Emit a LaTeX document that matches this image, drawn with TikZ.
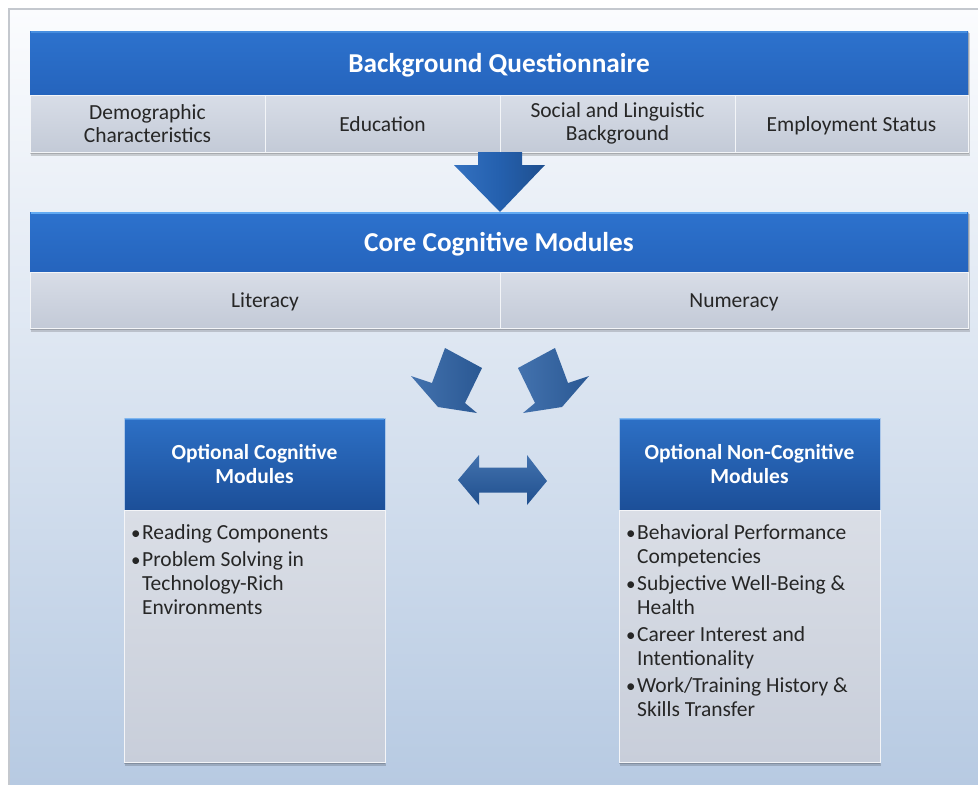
\documentclass[tikz,border=0pt]{standalone}
\usepackage{fontspec}
\setmainfont{Carlito}
\usetikzlibrary{calc}
\definecolor{bgtop}{HTML}{FBFCFE}
\definecolor{bgbot}{HTML}{B7CAE2}
\definecolor{framegray}{HTML}{C4C8CE}
\definecolor{barblue}{HTML}{2D72CD}
\definecolor{bardark}{HTML}{2564BD}
\definecolor{barlight}{HTML}{62AAF2}
\definecolor{celltop}{HTML}{D8DDE7}
\definecolor{cellbot}{HTML}{C3CAD7}
\definecolor{hdrtop}{HTML}{2D70C6}
\definecolor{hdrbot}{HTML}{1C4F98}
\definecolor{bodytop}{HTML}{DADEE6}
\definecolor{bodybot}{HTML}{C8CEDA}
\definecolor{arrowlight}{HTML}{3471C0}
\definecolor{arrowblue}{HTML}{2460AE}
\definecolor{arrowdark}{HTML}{1F4F8E}
\definecolor{carrowlight}{HTML}{4372AE}
\definecolor{carrow}{HTML}{2A5893}
\definecolor{txt}{HTML}{262626}
\newcommand{\bul}{{\fontsize{19}{19}\selectfont •}\kern1.5pt}
\newcommand{\bulgap}{\phantom{\bul}}
\tikzset{
  bluebar/.style={anchor=north west, inner sep=0pt, outer sep=0pt, top color=barblue, bottom color=bardark, draw=none, text=white, text height=19.5pt, text depth=0pt, font=\bfseries\fontsize{27.3}{30}\selectfont},
  subcell/.style={anchor=north west, inner sep=0pt, outer sep=0pt, top color=celltop, bottom color=cellbot, draw=white!70!celltop, line width=1pt, text=txt, align=center, font=\fontsize{21.5}{22.5}\selectfont},
  oneline/.style={text height=15pt, text depth=0pt},
  boxhead/.style={anchor=north west, inner sep=0pt, outer sep=0pt, top color=hdrtop, bottom color=hdrbot, draw=white!60!hdrtop, line width=0.8pt, text=white, align=center, font=\bfseries\fontsize{21.5}{23.5}\selectfont},
  boxbody/.style={anchor=north west, inner sep=0pt, outer sep=0pt, top color=bodytop, bottom color=bodybot, draw=white!70!bodytop, line width=1pt},
  listtext/.style={anchor=north west, inner sep=0pt, align=left, text=txt, font=\fontsize{21.5}{24}\selectfont},
  softshadow/.style={fill=black, opacity=0.16},
  glossline/.style={barlight, line width=2pt},
}
\begin{document}
\begin{tikzpicture}[x=1pt,y=-1pt]
\useasboundingbox (0,0) rectangle (978,785);
\fill[white] (0,0) rectangle (978,785);
\shade[top color=bgtop, bottom color=bgbot] (9,9) rectangle (978,785);
\draw[framegray, line width=1.2pt] (9,785) -- (9,9) -- (978,9);

% ---------- shadows ----------
\fill[softshadow] (31,33) rectangle (970,155.5);
\fill[softshadow] (30,32) rectangle (969,154);
\fill[softshadow] (31,214) rectangle (970,331.5);
\fill[softshadow] (30,213) rectangle (969,330);
\fill[softshadow] (125,420) rectangle (386,765.5);
\fill[softshadow] (124,419) rectangle (385,764);
\fill[softshadow] (620,420) rectangle (881,765.5);
\fill[softshadow] (619,419) rectangle (880,764);

% ---------- Background Questionnaire ----------
\node[bluebar, minimum width=938pt, minimum height=64pt] (bq) at (30,31) {Background Questionnaire};
\draw[glossline, opacity=0.5] ($(bq.north west)+(1,1)$) -- ($(bq.north east)+(-1,1)$);
\node[subcell, minimum width=235pt, minimum height=57pt] (demo) at (30,95) {Demographic\\Characteristics};
\node[subcell, oneline, minimum width=235pt, minimum height=57pt] (edu) at (265,95) {Education};
\node[subcell, minimum width=235pt, minimum height=57pt] (soc) at (500,95) {Social and Linguistic\\Background};
\node[subcell, oneline, minimum width=233pt, minimum height=57pt] (emp) at (735,95) {Employment Status};

% ---------- Core Cognitive Modules ----------
\node[bluebar, minimum width=938pt, minimum height=60pt] (core) at (30,212) {Core Cognitive Modules};
\draw[glossline] ($(core.north west)+(1,1)$) -- ($(core.north east)+(-1,1)$);
\node[subcell, oneline, minimum width=470pt, minimum height=56pt] (lit) at (30,272) {Literacy};
\node[subcell, oneline, minimum width=468pt, minimum height=56pt] (num) at (500,272) {Numeracy};

% ---------- down arrow ----------
\coordinate (dtop) at (edu.south east);
\coordinate (dtip) at ($(core.north)+(1,0)$);
\shade[left color=arrowlight, right color=arrowdark, middle color=arrowblue]
  ($(dtop)+(-22,0)$) -- ($(dtop)+(22,0)$) -- ($(dtop)+(22,13)$) -- ($(dtop)+(45,13)$)
  -- (dtip) -- ($(dtop)+(-46,13)$) -- ($(dtop)+(-22,13)$) -- cycle;

% ---------- optional boxes ----------
\node[boxhead, minimum width=261pt, minimum height=92pt] (ochead) at (124,418) {Optional Cognitive\\Modules};
\draw[glossline, opacity=0.6] ($(ochead.north west)+(1,1)$) -- ($(ochead.north east)+(-1,1)$);
\node[boxbody, minimum width=261pt, minimum height=252pt] (ocbody) at (124,510) {};
\node[listtext] (oclist) at ($(ocbody.north west)+(7,14)$)
  {\bul Reading Components\\[3pt]\bul Problem Solving in\\\bulgap Technology-Rich\\\bulgap Environments};

\node[boxhead, minimum width=261pt, minimum height=92pt] (onhead) at (619,418) {Optional Non-Cognitive\\Modules};
\draw[glossline, opacity=0.6] ($(onhead.north west)+(1,1)$) -- ($(onhead.north east)+(-1,1)$);
\node[boxbody, minimum width=261pt, minimum height=252pt] (onbody) at (619,510) {};
\node[listtext] (onlist) at ($(onbody.north west)+(7,14)$)
  {\bul Behavioral Performance\\\bulgap Competencies\\[3pt]\bul Subjective Well-Being \&\\\bulgap Health\\[3pt]\bul Career Interest and\\\bulgap Intentionality\\[3pt]\bul Work/Training History \&\\\bulgap Skills Transfer};

% ---------- bent arrows from core modules ----------
\begin{scope}[shift={(lit.south east)}]
  \shade[left color=carrowlight, right color=carrow]
    (-55,20) -- (-18,40) -- (-35,75) -- (-23,85) -- (-62,79) -- (-89,48) -- (-68,55) -- cycle;
  \shade[left color=carrowlight, right color=carrow]
    (55,20) -- (18,40) -- (35,75) -- (23,85) -- (62,79) -- (89,48) -- (68,55) -- cycle;
\end{scope}

% ---------- double arrow between optional modules ----------
\coordinate (dmid) at ($(ochead.south east)!0.5!(onhead.south west)+(0,-30)$);
\begin{scope}[shift={(dmid)}]
  \shade[top color=carrowlight, bottom color=arrowdark]
    (-44,0) -- (-23,-25) -- (-23,-12.5) -- (25,-12.5) -- (25,-25) -- (45,1)
    -- (25,25) -- (25,12.5) -- (-23,12.5) -- (-23,25) -- cycle;
\end{scope}
\end{tikzpicture}
\end{document}
